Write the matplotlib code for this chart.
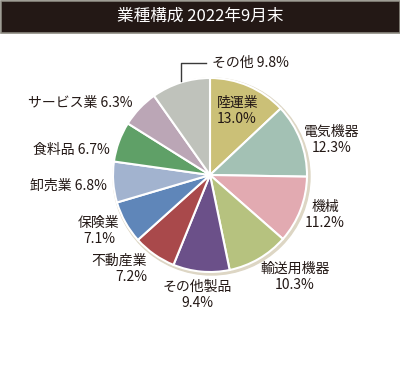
import matplotlib
matplotlib.use('Agg')
import matplotlib.pyplot as plt
from matplotlib.patches import Rectangle, Circle

plt.rcParams['font.family'] = ['Noto Sans CJK JP', 'DejaVu Sans']

# data (clockwise from 12 o'clock)
sectors = ['陸運業', '電気機器', '機械', '輸送用機器', 'その他製品', '不動産業',
           '保険業', '卸売業', '食料品', 'サービス業', 'その他']
shares = [13.0, 12.3, 11.2, 10.3, 9.4, 7.2, 7.1, 6.8, 6.7, 6.3, 9.8]
colors = ['#cbc077', '#a3c1b4', '#e2aab1', '#b6c27f', '#6b5089', '#a9494b',
          '#5f86b9', '#a2b3cf', '#5fa067', '#bba6b6', '#bfc2bb']
title = '業種構成 2022年9月末'

# label placement in pixels (x, y from top, ha, two lines?)
label_pos = [(217, 111, 'left', True), (332, 140, 'center', True),
             (325, 215, 'center', True), (295, 277, 'center', True),
             (197, 295, 'center', True), (147, 269, 'right', True),
             (99, 231, 'center', True), (107, 186, 'right', False),
             (110, 150, 'right', False), (132, 103, 'right', False),
             (212, 63, 'left', False)]

W, H = 400, 383
txt_color = '#231815'

fig = plt.figure(figsize=(W / 100, H / 100), dpi=100)
ax = fig.add_axes([0, 0, 1, 1])

cx, cy, r = 210, H - 175, 97

# soft shadow behind the pie
ax.add_patch(Circle((cx + 1.5, cy - 1.5), r + 1.5, color='#ddd6c4', zorder=0))

ax.pie(shares, colors=colors, startangle=90, counterclock=False,
       center=(cx, cy), radius=r,
       wedgeprops=dict(edgecolor='white', linewidth=1.5))

# title bar
ax.add_patch(Rectangle((0.5, H - 33), W - 1, 32.5, facecolor='#231815',
                       edgecolor='#8c8a80', linewidth=1.2, zorder=3))
ax.text(W / 2, H - 16.5, title, color='white', fontsize=12,
        ha='center', va='center', zorder=4)

for name, val, (x, y, ha, two) in zip(sectors, shares, label_pos):
    if two:
        s = f'{name}\n{val:.1f}%'
    else:
        s = f'{name} {val:.1f}%'
    ax.text(x, H - y, s, fontsize=10, color=txt_color, ha=ha, va='center',
            multialignment=ha, linespacing=1.2)

# leader line for その他
ax.plot([206, 181, 181], [H - 63, H - 63, H - 81], color='#3a3a3a', lw=1)

ax.set_xlim(0, W)
ax.set_ylim(0, H)
ax.set_aspect('auto')
ax.axis('off')

fig.savefig('out.png', dpi=100)
